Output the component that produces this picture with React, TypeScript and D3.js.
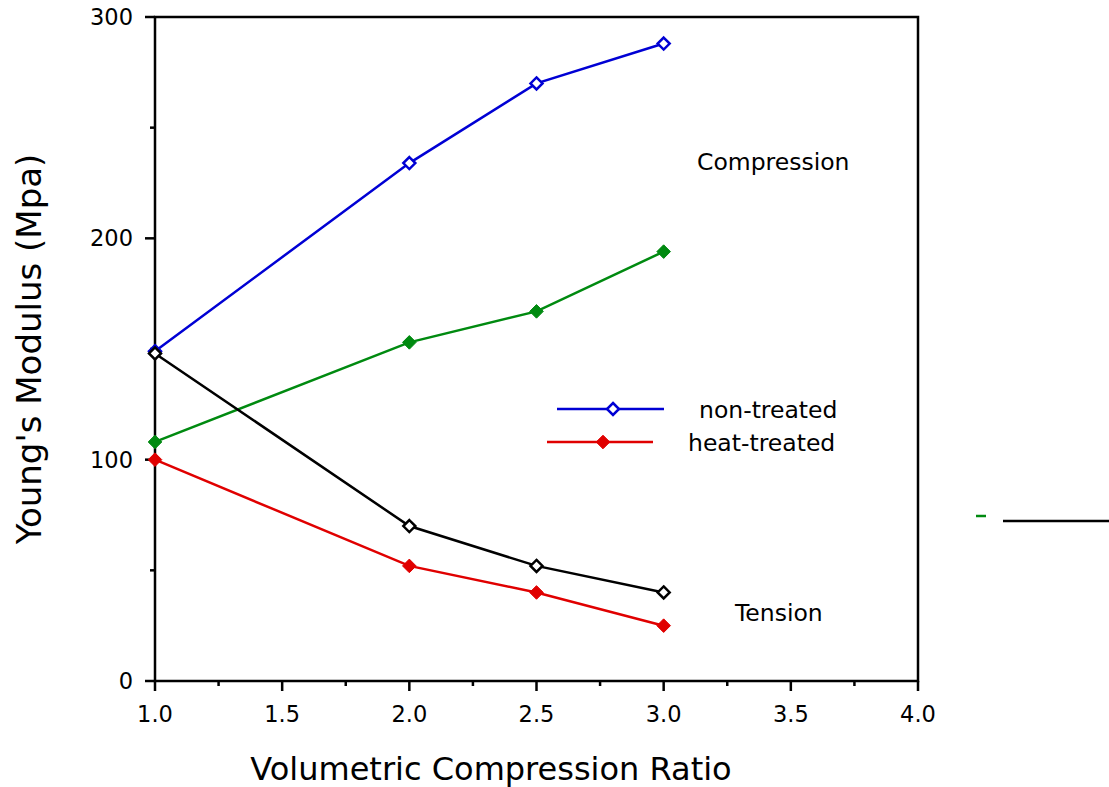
import React from "react";
import * as d3 from "d3";

const ratios = [1.0, 2.0, 2.5, 3.0];
const nonTreatedCompression = [149, 234, 270, 288];
const heatTreatedCompression = [108, 153, 167, 194];
const nonTreatedTension = [148, 70, 52, 40];
const heatTreatedTension = [100, 52, 40, 25];

const xMajorTicks = [1.0, 1.5, 2.0, 2.5, 3.0, 3.5, 4.0];
const xMinorTicks = [1.25, 1.75, 2.25, 2.75, 3.25, 3.75];
const yMajorTicks = [0, 100, 200, 300];
const yMinorTicks = [50, 150, 250];

const W = 1109, H = 787;
const FONT = "'DejaVu Sans', Verdana, sans-serif";

const x = d3.scaleLinear().domain([1, 4]).range([155, 918]);
const y = d3.scaleLinear().domain([0, 300]).range([681, 17]);

const diamond = (r: number) => `M0,${-r}L${r},0L0,${r}L${-r},0Z`;

type S = { vals: number[]; color: string; open: boolean };
const series: S[] = [
  { vals: nonTreatedCompression, color: "#0000d4", open: true },
  { vals: heatTreatedCompression, color: "#008a10", open: false },
  { vals: nonTreatedTension, color: "#000000", open: true },
  { vals: heatTreatedTension, color: "#e00000", open: false },
];

const SW = 2.5;

export default function App() {
  const line = d3
    .line<number>()
    .x((_, i) => x(ratios[i]))
    .y((d) => y(d));

  return (
    <svg
      width={W}
      height={H}
      style={{ position: "absolute", left: 0, top: 0, background: "#fff" }}
      fontFamily={FONT}
    >
      <rect x={0} y={0} width={W} height={H} fill="#fff" />
      {/* frame */}
      <rect x={x(1)} y={y(300)} width={x(4) - x(1)} height={y(0) - y(300)} fill="none" stroke="#000" strokeWidth={2.5} />
      {/* y ticks */}
      {yMajorTicks.map((t) => (
        <g key={"ym" + t}>
          <line x1={x(1) - 10} x2={x(1)} y1={y(t)} y2={y(t)} stroke="#000" strokeWidth={2.5} />
          <text x={133} y={y(t)} dy="0.35em" textAnchor="end" fontSize={22.5}>
            {t}
          </text>
        </g>
      ))}
      {yMinorTicks.map((t) => (
        <line key={"yn" + t} x1={x(1) - 5} x2={x(1)} y1={y(t)} y2={y(t)} stroke="#000" strokeWidth={2.5} />
      ))}
      {/* x ticks */}
      {xMajorTicks.map((t) => (
        <g key={"xm" + t}>
          <line x1={x(t)} x2={x(t)} y1={y(0)} y2={y(0) + 10} stroke="#000" strokeWidth={2.5} />
          <text x={x(t)} y={722} textAnchor="middle" fontSize={22.5}>
            {t.toFixed(1)}
          </text>
        </g>
      ))}
      {xMinorTicks.map((t) => (
        <line key={"xn" + t} x1={x(t)} x2={x(t)} y1={y(0)} y2={y(0) + 5} stroke="#000" strokeWidth={2.5} />
      ))}
      {/* series */}
      {series.map((s, si) => (
        <g key={"s" + si}>
          <path d={line(s.vals) || ""} fill="none" stroke={s.color} strokeWidth={SW} />
          {s.vals.map((v, i) => (
            <path
              key={i}
              d={diamond(s.open ? 6 : 6.8)}
              transform={`translate(${x(ratios[i])},${y(v)})`}
              fill={s.open ? "#fff" : s.color}
              stroke={s.color}
              strokeWidth={s.open ? SW : 1}
            />
          ))}
        </g>
      ))}
      {/* legend */}
      <line x1={557} x2={664} y1={409} y2={409} stroke="#0000d4" strokeWidth={SW} />
      <path d={diamond(6)} transform="translate(613,409)" fill="#fff" stroke="#0000d4" strokeWidth={SW} />
      <text x={699} y={418} fontSize={23.5}>non-treated</text>
      <line x1={547} x2={653} y1={442} y2={442} stroke="#e00000" strokeWidth={SW} />
      <path d={diamond(6.8)} transform="translate(603,442)" fill="#e00000" stroke="#e00000" strokeWidth={1} />
      <text x={688} y={451} fontSize={23.5}>heat-treated</text>
      {/* annotations */}
      <text x={697} y={170} fontSize={23.5}>Compression</text>
      <text x={735} y={621} fontSize={23.5}>Tension</text>
      {/* stray legend fragments */}
      <line x1={976} x2={986} y1={516} y2={516} stroke="#008a10" strokeWidth={2.5} />
      <line x1={1003} x2={1109} y1={521} y2={521} stroke="#000" strokeWidth={2.5} />
      {/* axis titles */}
      <text x={491} y={780} textAnchor="middle" fontSize={32}>
        Volumetric Compression Ratio
      </text>
      <text transform="translate(41,349) rotate(-90)" textAnchor="middle" fontSize={34}>
        Young's Modulus (Mpa)
      </text>
    </svg>
  );
}
